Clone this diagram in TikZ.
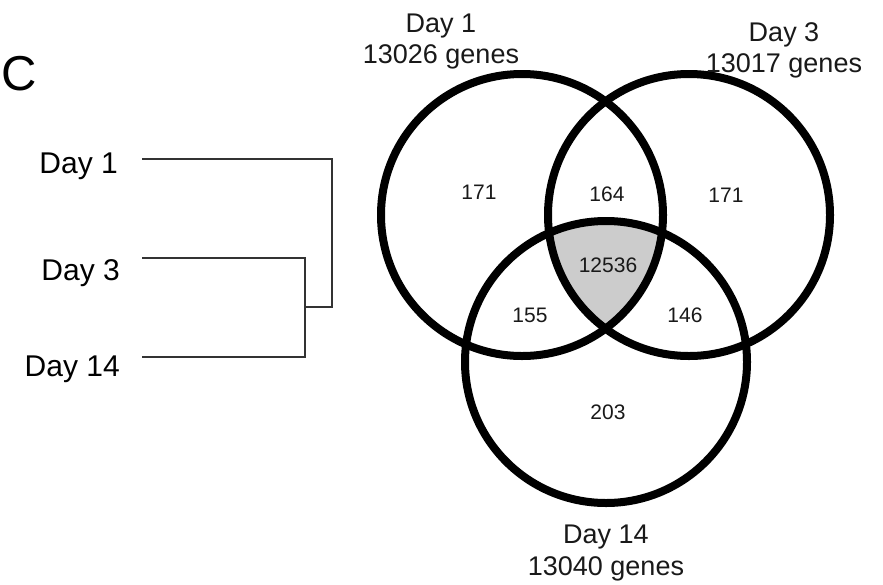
\documentclass[tikz,border=0pt]{standalone}
\usepackage{fontspec}
\setmainfont{Liberation Sans}
\begin{document}
\begin{tikzpicture}[x=1pt,y=-1pt,
  venn/.style={circle, draw=black, line width=8pt, minimum size=282pt, inner sep=0pt},
  dend/.style={line width=1.5pt, draw=black!80},
  lab/.style={font=\fontsize{27}{32}\selectfont, inner sep=0pt, anchor=base, text=black!90},
  num/.style={font=\fontsize{21}{25}\selectfont, inner sep=0pt, text=black!90},
  leaf/.style={font=\fontsize{30}{36}\selectfont, inner sep=0pt, anchor=base east},
  panel/.style={font=\fontsize{49}{58}\selectfont, inner sep=0pt, anchor=base west}]
\useasboundingbox (0,0) rectangle (883,584);
% centres
\coordinate (cA) at (522,215);
\coordinate (cB) at (689,215);
\coordinate (cC) at (606,362);
% triple intersection
\begin{scope}
  \clip (cA) circle[radius=141];
  \clip (cB) circle[radius=141];
  \fill[gray!40] (cC) circle[radius=141];
\end{scope}
\node[venn] (A) at (cA) {};
\node[venn] (B) at (cB) {};
\node[venn] (C) at (cC) {};
% region counts
\node[num] (nA) at (479,192) {171};
\node[num] (nAB) at (607,194) {164};
\node[num] (nB) at (726,195) {171};
\node[num] (nABC) at (608,265) {12536};
\node[num] (nAC) at (530,315) {155};
\node[num] (nBC) at (685,315) {146};
\node[num] (nC) at (608,412) {203};
% set labels
\node[lab] (tA1) at (441,32) {Day 1};
\node[lab] (tA2) at (441,63) {13026 genes};
\node[lab] (tB1) at (784,41) {Day 3};
\node[lab] (tB2) at (784,72) {13017 genes};
\node[lab] (tC1) at (606,543) {Day 14};
\node[lab] (tC2) at (606,575) {13040 genes};
% panel letter
\node[panel] (pl) at (1,90) {C};
% dendrogram
\node[leaf] (d1) at (118,173) {Day 1};
\node[leaf] (d3) at (120,280) {Day 3};
\node[leaf] (d14) at (120,376) {Day 14};
\coordinate (l1) at (142,159);
\coordinate (l3) at (142,258);
\coordinate (l14) at (142,357);
\coordinate (j1) at (332,159);
\coordinate (j3) at (305,258);
\coordinate (j14) at (305,357);
\coordinate (m) at (305,307);
\coordinate (mr) at (332,307);
\draw[dend] (l3) -- (j3) -- (j14) -- (l14);
\draw[dend] (l1) -- (j1) -- (mr) -- (m);
\end{tikzpicture}
\end{document}
